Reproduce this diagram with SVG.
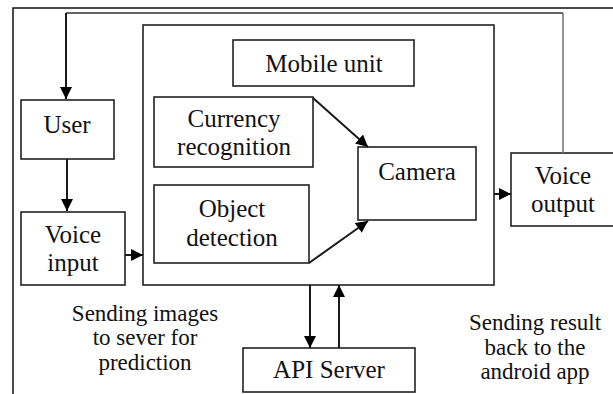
<svg xmlns="http://www.w3.org/2000/svg" width="613" height="394" viewBox="0 0 613 394">
<style>
.box{fill:#fff;stroke:#222;stroke-width:1.6}
.t{font-size:25px;fill:#111;text-anchor:middle}
.l{font-size:23px;fill:#111;text-anchor:middle}
.c{fill:none;stroke:#1a1a1a;stroke-width:2}
</style>
<defs>
<marker id="ah" viewBox="0 0 12 12" refX="12" refY="6" markerWidth="12" markerHeight="12" markerUnits="userSpaceOnUse" orient="auto">
<path d="M0,0 L12,6 L0,12 Z" fill="#000"/>
</marker>
</defs>
<rect width="613" height="394" fill="#fff"/>
<g id="frame">
<path d="M13,394 V8 H613" fill="none" stroke="#111" stroke-width="1.5"/>
</g>
<g id="mobile">
<rect class="box" x="143" y="25" width="351" height="260"/>
</g>
<g font-family="Liberation Serif">
<g id="mobile-label">
<rect class="box" x="233" y="40" width="181" height="46"/>
<text class="t" x="324" y="72">Mobile unit</text>
</g>
<g id="user">
<rect class="box" x="21" y="100" width="93" height="59"/>
<text class="t" x="67" y="133">User</text>
</g>
<g id="voice-input">
<rect class="box" x="21" y="212" width="104" height="73"/>
<text class="t" x="73" y="243">Voice</text>
<text class="t" x="73" y="271">input</text>
</g>
<g id="currency">
<rect class="box" x="154" y="97" width="159" height="70"/>
<text class="t" x="234" y="127">Currency</text>
<text class="t" x="234" y="155">recognition</text>
</g>
<g id="object">
<rect class="box" x="154" y="185" width="155" height="78"/>
<text class="t" x="232" y="217">Object</text>
<text class="t" x="232" y="246">detection</text>
</g>
<g id="camera">
<rect class="box" x="358" y="147" width="118" height="73"/>
<text class="t" x="417" y="180">Camera</text>
</g>
<g id="voice-output">
<rect class="box" x="511" y="153" width="110" height="73"/>
<text class="t" x="563" y="184">Voice</text>
<text class="t" x="563" y="212">output</text>
</g>
<g id="api">
<rect class="box" x="243" y="348" width="172" height="44"/>
<text class="t" x="329" y="378">API Server</text>
</g>
<g id="labels">
<text class="l" x="145" y="321">Sending images</text>
<text class="l" x="145" y="345">to sever for</text>
<text class="l" x="145" y="370">prediction</text>
<text class="l" x="535" y="330">Sending result</text>
<text class="l" x="535" y="355">back to the</text>
<text class="l" x="535" y="379">android app</text>
</g>
</g>
<g id="connectors">
<path d="M66,13 H563" fill="none" stroke="#333" stroke-width="1.6"/>
<path d="M563,13 V153" fill="none" stroke="#777" stroke-width="1.6"/>
<path class="c" d="M66,13 V99" marker-end="url(#ah)"/>
<path class="c" d="M67,159 V211" marker-end="url(#ah)"/>
<path class="c" d="M125,255 H143" marker-end="url(#ah)"/>
<path class="c" d="M313,98 L368,147" marker-end="url(#ah)"/>
<path class="c" d="M309,263 L368,221" marker-end="url(#ah)"/>
<path class="c" d="M494,194 H511" marker-end="url(#ah)"/>
<path class="c" d="M310,285 V348" marker-end="url(#ah)"/>
<path class="c" d="M339,348 V285" marker-end="url(#ah)"/>
</g>
</svg>
